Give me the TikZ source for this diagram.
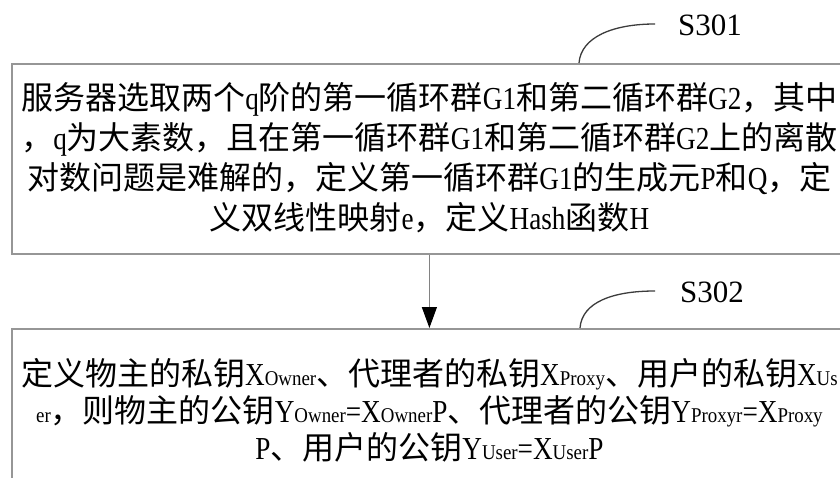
\documentclass[tikz,border=0pt]{standalone}
\usepackage{fontspec}
\setmainfont{Noto Sans CJK SC}
\newfontfamily\latf[FakeStretch=0.85]{Liberation Serif}
\newfontfamily\subf[FakeStretch=0.9]{Liberation Serif}
\newfontfamily\labf{Liberation Serif}
\usetikzlibrary{arrows.meta,calc}
\newcommand\latn[1]{{\latf #1}}
\newcommand\lsub[1]{{\subf\fontsize{21}{37}\selectfont #1}}
\newcommand\stA{\rule[-9pt]{0pt}{39pt}}
\newcommand\stB{\rule[-8pt]{0pt}{36pt}}
\definecolor{boxgray}{RGB}{150,150,150}
\definecolor{linegray}{RGB}{130,130,130}
\definecolor{taggray}{RGB}{60,60,60}
\begin{document}
\begin{tikzpicture}[x=1pt,y=-1pt,
  box/.style={draw=boxgray, line width=1.8pt, minimum width=835pt, inner sep=0pt,
    align=center, anchor=north west, font=\fontsize{32}{37}\selectfont},
  lab/.style={font=\labf\fontsize{31}{31}\selectfont, inner sep=0pt, anchor=west},
  tag/.style={draw=taggray, line width=1.3pt},
  flow/.style={draw=linegray, line width=1.2pt, -{Triangle[length=21pt,width=15pt,black]}}]
\useasboundingbox (0,0) rectangle (840,478);
\fill[white] (0,0) rectangle (840,478);
\clip (0,0) rectangle (840,478);
\node[box, minimum height=190pt] (b1) at (11,63) {%
\stA 服务器选取两个\latn{q}阶的第一循环群\latn{G1}和第二循环群\latn{G2}，其中\\
\stA ，\latn{q}为大素数，且在第一循环群\latn{G1}和第二循环群\latn{G2}上的离散\\
\stA 对数问题是难解的，定义第一循环群\latn{G1}的生成元\latn{P}和\latn{Q}，定\\
\stA 义双线性映射\latn{e}，定义\latn{Hash}函数\latn{H}};
\node[box, minimum height=168pt] (b2) at (11,328) {%
\stB 定义物主的私钥\latn{X}\lsub{Owner}、代理者的私钥\latn{X}\lsub{Proxy}、用户的私钥\latn{X}\lsub{Us}\\
\stB \lsub{er}，则物主的公钥\latn{Y}\lsub{Owner}\latn{=X}\lsub{Owner}\latn{P}、代理者的公钥\latn{Y}\lsub{Proxyr}\latn{=X}\lsub{Proxy}\\
\stB \latn{P}、用户的公钥\latn{Y}\lsub{User}\latn{=X}\lsub{User}\latn{P}};
\draw[flow] (b1.south) -- (b2.north);
\node[lab] (s1) at (678,25) {S301};
\node[lab] (s2) at (680,292) {S302};
\draw[tag] ($(b1.north west)+(568,0)$) .. controls +(2,-26) and +(-42,0) .. ($(s1.west)+(-23,-1)$);
\draw[tag] ($(b2.north west)+(569,0)$) .. controls +(2,-26) and +(-42,0) .. ($(s2.west)+(-25,-1)$);
\end{tikzpicture}
\end{document}
